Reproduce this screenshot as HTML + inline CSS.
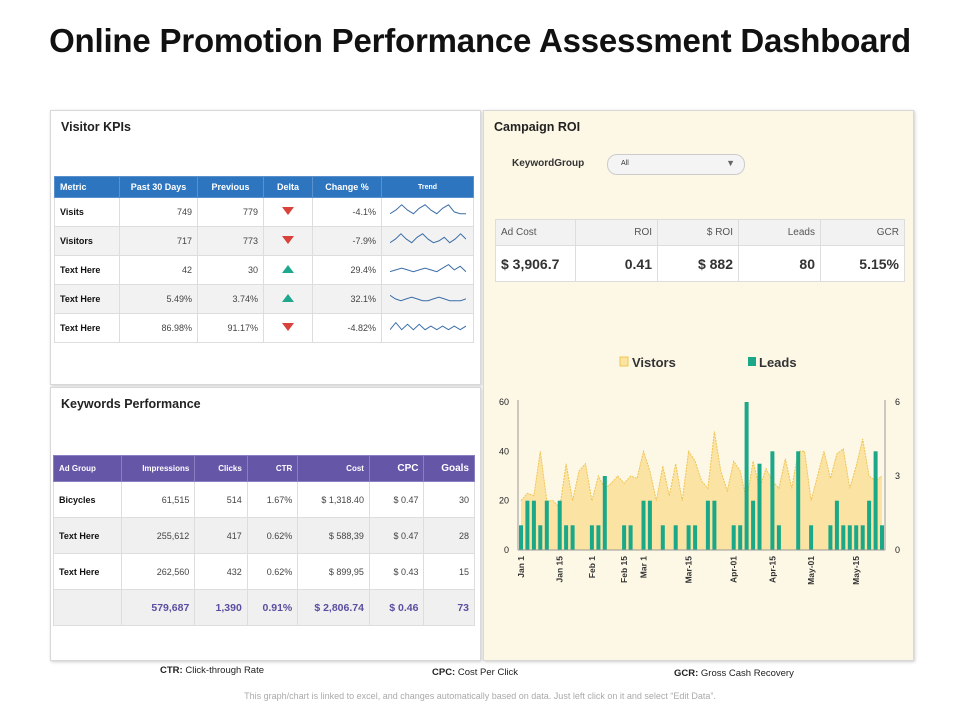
<!DOCTYPE html>
<html><head><meta charset="utf-8"><style>
body{margin:0;width:960px;height:720px;background:#fff;font-family:"Liberation Sans",Arial,sans-serif;position:relative;overflow:hidden}
.abs{position:absolute}
h1{position:absolute;left:0;width:960px;top:22px;margin:0;text-align:center;font-size:33px;font-weight:bold;color:#111;letter-spacing:-0.2px}
.panel{position:absolute;border:1px solid #d8d8d8;box-shadow:1px 1px 3px #ccc;background:#fff}
.ptitle{position:absolute;left:10px;top:9px;font-size:12.5px;font-weight:bold;color:#222}
table{border-collapse:collapse;position:absolute;table-layout:fixed}
td,th{border:1px solid #ddd;font-size:9px;padding:0 5px;color:#444}
.kpi th{background:#2e75c0;color:#fff;font-weight:bold;border-color:#5a91cc;height:20px}
.kpi td{height:28px;text-align:right}
.kpi tbody tr:nth-child(even) td{background:#f2f2f2}
.kw th{background:#6656a8;color:#fff;font-size:8px;height:25px;text-align:right;border-color:#8a7fc0}
.kw td{height:35px;text-align:right}
.kw tr:nth-child(odd) td{background:#f0f0f0}
.lbl{text-align:left!important;color:#111!important;font-weight:bold}
.tot td{color:#5a4ea0!important;font-weight:bold;font-size:10.5px}
.roi td{background:#fff;border-color:#ddd;text-align:right;font-size:10px}
.roi tr:first-child td{background:#f2f2f2;height:25px;color:#555}
.roi tr:last-child td{height:35px;font-size:14px;font-weight:bold;color:#333}
.foot{position:absolute;font-size:9.5px;color:#222}
</style></head><body>
<h1>Online Promotion Performance Assessment Dashboard</h1>

<div class="panel" style="left:50px;top:110px;width:429px;height:273px">
<div class="ptitle">Visitor KPIs</div>
<table class="kpi" style="left:3px;top:65px;width:420px">
<colgroup><col style="width:65px"><col style="width:78px"><col style="width:66px"><col style="width:49px"><col style="width:69px"><col style="width:92px"></colgroup>
<thead><tr><th style="text-align:left">Metric</th><th>Past 30 Days</th><th>Previous</th><th>Delta</th><th>Change %</th><th style="font-size:7px">Trend</th></tr></thead>
<tbody id="kpibody"></tbody>
</table>
</div>

<div class="panel" style="left:50px;top:387px;width:429px;height:272px">
<div class="ptitle">Keywords Performance</div>
<table class="kw" style="left:2px;top:67px;width:422px">
<colgroup><col style="width:67px"><col style="width:73px"><col style="width:52px"><col style="width:50px"><col style="width:71px"><col style="width:54px"><col style="width:50px"></colgroup>
<tr><th style="text-align:left">Ad Group</th><th>Impressions</th><th>Clicks</th><th>CTR</th><th>Cost</th><th style="font-size:10px">CPC</th><th style="font-size:10px">Goals</th></tr>
<tr><td class="lbl">Bicycles</td><td>61,515</td><td>514</td><td>1.67%</td><td>$ 1,318.40</td><td>$ 0.47</td><td>30</td></tr>
<tr><td class="lbl">Text Here</td><td>255,612</td><td>417</td><td>0.62%</td><td>$ 588,39</td><td>$ 0.47</td><td>28</td></tr>
<tr><td class="lbl">Text Here</td><td>262,560</td><td>432</td><td>0.62%</td><td>$ 899,95</td><td>$ 0.43</td><td>15</td></tr>
<tr class="tot"><td></td><td>579,687</td><td>1,390</td><td>0.91%</td><td>$ 2,806.74</td><td>$ 0.46</td><td>73</td></tr>
</table>
</div>

<div class="panel" style="left:483px;top:110px;width:429px;height:549px;background:#fdf8e6">
<div class="ptitle">Campaign ROI</div>
<div class="abs" style="left:28px;top:47px;font-size:10px;font-weight:bold;color:#333">KeywordGroup</div>
<div class="abs" style="left:123px;top:43px;width:136px;height:19px;border:1px solid #ccc;border-radius:10px;background:#f4f4f4;font-size:7px;color:#333"><span style="position:absolute;left:13px;top:5px">All</span><span style="position:absolute;right:9px;top:3px;font-size:9px;color:#666">▼</span></div>
<table class="roi" style="left:11px;top:108px;width:409px">
<colgroup><col style="width:80px"><col style="width:82px"><col style="width:81px"><col style="width:82px"><col style="width:84px"></colgroup>
<tr><td style="text-align:left">Ad Cost</td><td>ROI</td><td>$ ROI</td><td>Leads</td><td>GCR</td></tr>
<tr><td style="text-align:left">$ 3,906.7</td><td>0.41</td><td>$ 882</td><td>80</td><td>5.15%</td></tr>
</table>
</div>

<svg id="chart" class="abs" style="left:0;top:0" width="960" height="720"></svg>

<div class="foot" style="left:160px;top:665px"><b>CTR:</b> Click-through Rate</div>
<div class="foot" style="left:432px;top:667px"><b>CPC:</b> Cost Per Click</div>
<div class="foot" style="left:674px;top:668px"><b>GCR:</b> Gross Cash Recovery</div>
<div class="foot" style="left:0;width:960px;text-align:center;top:691px;color:#aaa;font-size:9px">This graph/chart is linked to excel, and changes automatically based on data. Just left click on it and select “Edit Data”.</div>

<script>
// KPI table data
const kpiMetrics=["Visits","Visitors","Text Here","Text Here","Text Here"];
const kpiPast=["749","717","42","5.49%","86.98%"];
const kpiPrev=["779","773","30","3.74%","91.17%"];
const kpiUp=[false,false,true,true,false];
const kpiChange=["-4.1%","-7.9%","29.4%","32.1%","-4.82%"];
const trends=[[3,5,8,5,3,6,8,5,3,6,8,4,3,3],[3,5,8,5,3,6,8,5,3,4,6,3,5,8,5],[3,4,5,4,3,4,5,4,3,5,7,4,6,3],[6,4,3,4,5,4,3,3,4,5,4,3,3,3,4],[3,7,3,6,3,6,3,5,3,5,3,5,3,5]];
const kb=document.getElementById('kpibody');
kpiMetrics.forEach((m,i)=>{
  const tr=document.createElement('tr');
  
  
  const t=trends[i],w=76,h=16;
  const pts=t.map((v,j)=>(j*w/(t.length-1)).toFixed(1)+','+(h-v/9*h).toFixed(1)).join(' ');
  const tri=kpiUp[i]?'<polygon points="0,10 6,2 12,10" fill="#1fa88e"/>':'<polygon points="0,2 12,2 6,10" fill="#d9413b"/>';
  tr.innerHTML='<td class="lbl">'+m+'</td><td>'+kpiPast[i]+'</td><td>'+kpiPrev[i]+'</td><td style="text-align:center"><svg width="12" height="12">'+tri+'</svg></td><td>'+kpiChange[i]+'</td><td style="text-align:center"><svg width="76" height="16"><polyline points="'+pts+'" fill="none" stroke="#3b6ea8" stroke-width="1"/></svg></td>';
  kb.appendChild(tr);
});

// Chart data
const visitors=[20,23,22,40,20,20,17,35,20,32,35,20,30,25,27,30,27,30,29,40,32,20,34,22,35,20,40,36,28,25,48,32,24,36,32,20,36,25,33,28,25,37,25,40,40,20,30,40,29,39,41,25,34,45,30,28,30];
const leadIdx=[0,1,2,3,4,6,7,8,11,12,13,16,17,19,20,22,24,26,27,29,30,33,34,35,36,37,39,40,43,45,48,49,50,51,52,53,54,55,56];
const leadVal=[1,2,2,1,2,2,1,1,1,1,3,1,1,2,2,1,1,1,1,2,2,1,1,6,2,3.5,4,1,4,1,1,2,1,1,1,1,2,4,1];
const xLabels=["Jan 1","Jan 15","Feb 1","Feb 15","Mar 1","Mar-15","Apr-01","Apr-15","May-01","May-15"];
const xLabelIdx=[0,6,11,16,19,26,33,39,45,52];
const leftTicks=[0,20,40,60];
const rightTicks=[0,3,6];

const svg=document.getElementById('chart');
const NS='http://www.w3.org/2000/svg';
const X0=521,X1=882,Y0=550,Y1=402;
const n=visitors.length;
const x=i=>X0+i*(X1-X0)/(n-1);
const yL=v=>Y0-v/60*(Y0-Y1);
const yR=v=>Y0-v/6*(Y0-Y1);
function mk(tag,attrs,txt){const e=document.createElementNS(NS,tag);for(const k in attrs)e.setAttribute(k,attrs[k]);if(txt!==undefined)e.textContent=txt;svg.appendChild(e);return e;}
let d='M'+x(0)+','+Y0;visitors.forEach((v,i)=>d+=' L'+x(i).toFixed(1)+','+yL(v).toFixed(1));d+=' L'+x(n-1)+','+Y0+' Z';
const area=mk('path',{d:d,fill:'#fbe3a4'});


const line=mk('polyline',{points:visitors.map((v,i)=>x(i).toFixed(1)+','+yL(v).toFixed(1)).join(' '),fill:'none',stroke:'#efc451','stroke-width':1,'stroke-dasharray':'2,1'});


leadIdx.forEach((ix,k)=>{
  const b=mk('rect',{x:(x(ix)-2).toFixed(1),y:yR(leadVal[k]).toFixed(1),width:4,height:(Y0-yR(leadVal[k])).toFixed(1),fill:'#1aa888'});
  
  
});
mk('line',{x1:518,y1:Y1-2,x2:518,y2:Y0,stroke:'#999'});
mk('line',{x1:885,y1:Y1-2,x2:885,y2:Y0,stroke:'#999'});
mk('line',{x1:518,y1:Y0,x2:885,y2:Y0,stroke:'#999'});
leftTicks.forEach(t=>{const e=mk('text',{x:509,y:yL(t)+3,'font-size':9,'text-anchor':'end',fill:'#222'},t);});
rightTicks.forEach(t=>{const e=mk('text',{x:895,y:yR(t)+3,'font-size':9,fill:'#222'},t);});
xLabels.forEach((l,k)=>{const xx=x(xLabelIdx[k])+3;const e=mk('text',{x:xx,y:556,'font-size':8.5,'font-weight':'bold','text-anchor':'end',fill:'#333',transform:'rotate(-90 '+xx+' 556)'},l);});
const lg1=mk('rect',{x:620,y:357,width:8,height:9,fill:'#fbe3a4',stroke:'#efc451'});


const lt1=mk('text',{x:632,y:367,'font-size':13,'font-weight':'bold',fill:'#333'},'Vistors');


const lg2=mk('rect',{x:748,y:357,width:8,height:9,fill:'#1aa888'});


const lt2=mk('text',{x:759,y:367,'font-size':13,'font-weight':'bold',fill:'#333'},'Leads');


</script>
</body></html>
